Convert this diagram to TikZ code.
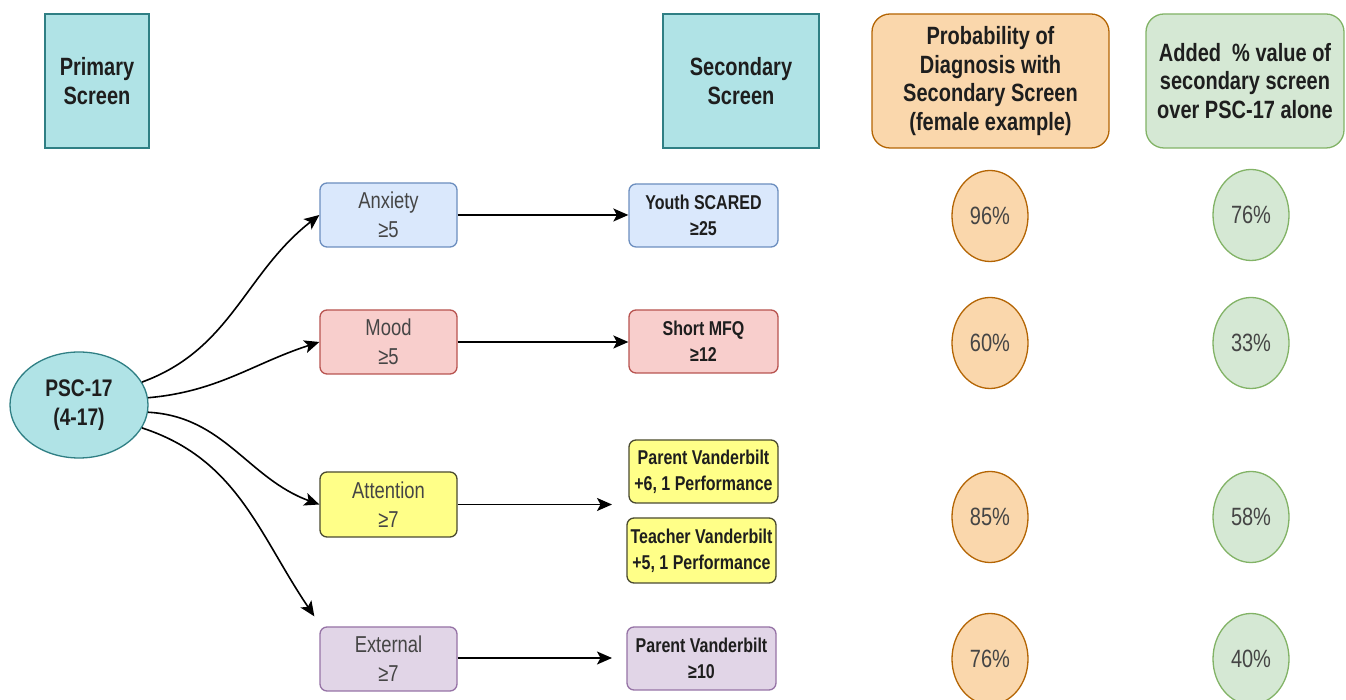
\documentclass[tikz,border=0pt]{standalone}
\usepackage{fontspec}
\setmainfont{Liberation Sans}[FakeStretch=0.8]
\usetikzlibrary{arrows.meta,shapes.geometric}
\definecolor{tealF}{HTML}{B0E3E6}
\definecolor{tealD}{HTML}{2F7F84}
\definecolor{blueF}{HTML}{DAE8FC}
\definecolor{blueD}{HTML}{6C8EBF}
\definecolor{redF}{HTML}{F8CECC}
\definecolor{redD}{HTML}{B85450}
\definecolor{yelF}{HTML}{FFFF88}
\definecolor{yelD}{HTML}{4A4A30}
\definecolor{purF}{HTML}{E1D5E7}
\definecolor{purD}{HTML}{9673A6}
\definecolor{oraF}{HTML}{FAD7AC}
\definecolor{oraD}{HTML}{B46504}
\definecolor{grnF}{HTML}{D5E8D4}
\definecolor{grnD}{HTML}{82B366}
\definecolor{txtA}{HTML}{1E1E1E}
\definecolor{txtB}{HTML}{454545}
\begin{document}
\begin{tikzpicture}[x=1pt,y=1pt,
  base/.style={line width=1.3pt, align=center, inner sep=0pt},
  hdrtxt/.style={font=\fontsize{25}{28.5}\selectfont\bfseries, text=txtA},
  hdrsq/.style={base, hdrtxt, rectangle, minimum height=134pt},
  hdrrd/.style={base, hdrtxt, rectangle, rounded corners=18pt, minimum height=134pt},
  cat/.style={base, rectangle, rounded corners=7pt, minimum width=137pt, minimum height=64pt,
    font=\fontsize{23}{29}\selectfont, text=txtB},
  scr/.style={base, rectangle, rounded corners=7pt, minimum width=149pt, minimum height=63pt,
    font=\fontsize{20}{26}\selectfont\bfseries, text=txtA},
  pct/.style={base, ellipse, minimum width=76pt, minimum height=91pt,
    font=\fontsize{25}{28}\selectfont, text=txtB},
  conn/.style={line width=1.6pt, draw=black, -{Stealth[length=15pt,width=13pt,inset=3.5pt]}}
]
\useasboundingbox[fill=white] (0,0) rectangle (1346,700);

% header
\node[hdrsq, fill=tealF, draw=tealD, minimum width=104pt] (prim) at (97,619) {Primary\\Screen};
\node[hdrsq, fill=tealF, draw=tealD, minimum width=156pt] (sec) at (741,619) {Secondary\\Screen};
\node[hdrrd, fill=oraF, draw=oraD, minimum width=237pt] (prob) at (990.5,619) {Probability of\\Diagnosis with\\Secondary Screen\\(female example)};
\node[hdrrd, fill=grnF, draw=grnD, minimum width=198pt] (add) at (1245,619) {Added\ \ \% value of\\secondary screen\\over PSC-17 alone};

% primary screen
\node[base, ellipse, fill=tealF, draw=tealD, minimum width=138pt, minimum height=106pt,
  font=\fontsize{24}{29}\selectfont\bfseries, text=txtA] (psc) at (79,295) {PSC-17\\(4-17)};

% categories
\node[cat, fill=blueF, draw=blueD] (anx) at (388.5,485) {Anxiety\\≥5};
\node[cat, fill=redF, draw=redD] (mood) at (388.5,358) {Mood\\≥5};
\node[cat, fill=yelF, draw=yelD, minimum height=65pt] (att) at (388.5,195.5) {Attention\\≥7};
\node[cat, fill=purF, draw=purD] (ext) at (388.5,41) {External\\≥7};

% secondary screens
\node[scr, fill=blueF, draw=blueD] (ysc) at (703.5,484.5) {Youth SCARED\\≥25};
\node[scr, fill=redF, draw=redD] (mfq) at (703.5,358.5) {Short MFQ\\≥12};
\node[scr, fill=yelF, draw=yelD] (pv) at (703.5,228.5) {Parent Vanderbilt\\+6, 1 Performance};
\node[scr, fill=yelF, draw=yelD, minimum height=65pt] (tv) at (701.5,149.5) {Teacher Vanderbilt\\+5, 1 Performance};
\node[scr, fill=purF, draw=purD] (pvx) at (701.5,41.5) {Parent Vanderbilt\\≥10};

% probabilities
\node[pct, fill=oraF, draw=oraD] (o1) at (990,484) {96\%};
\node[pct, fill=oraF, draw=oraD] (o2) at (990,357) {60\%};
\node[pct, fill=oraF, draw=oraD] (o3) at (990,183) {85\%};
\node[pct, fill=oraF, draw=oraD] (o4) at (990,41) {76\%};
\node[pct, fill=grnF, draw=grnD] (g1) at (1251,485) {76\%};
\node[pct, fill=grnF, draw=grnD] (g2) at (1251,357) {33\%};
\node[pct, fill=grnF, draw=grnD] (g3) at (1251,183) {58\%};
\node[pct, fill=grnF, draw=grnD] (g4) at (1251,41) {40\%};

% connectors
\coordinate (attend) at (612,195.5);
\coordinate (extend) at (612,42);
\draw[conn] (psc.20) to[out=20,in=218] (anx.west);
\draw[conn] (psc.6) to[out=5,in=198] (mood.west);
\draw[conn] (psc.-6) to[out=-3,in=160] (att.west);
\draw[conn] (psc.-20) to[out=-18,in=124] ([shift={(-5,10)}]ext.north west);
\draw[conn] (anx.east) -- (anx.east -| ysc.west);
\draw[conn] (mood.east) -- (mood.east -| mfq.west);
\draw[conn] (att.east) -- (attend);
\draw[conn] (ext.east |- extend) -- (extend);
\end{tikzpicture}
\end{document}
